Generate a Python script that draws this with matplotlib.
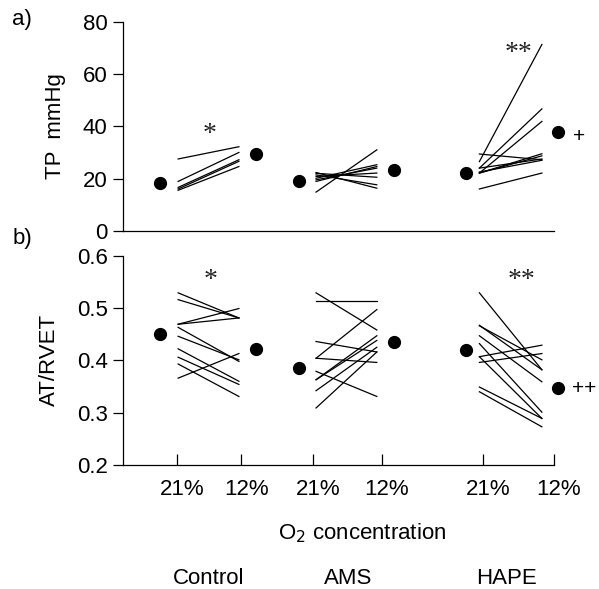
import matplotlib
matplotlib.use('Agg')
import matplotlib.pyplot as plt
from matplotlib.transforms import ScaledTranslation

plt.rcParams['font.family'] = ['Liberation Sans', 'DejaVu Sans']

groups = ['Control', 'AMS', 'HAPE']
o2_labels = ['21%', '12%']

# TP mmHg, individual subjects (21% -> 12%) and group means
tp_ctrl_21 = [27.5, 18.9, 16.6, 16.0, 15.5]
tp_ctrl_12 = [32.2, 30.0, 27.2, 26.6, 24.6]
tp_ams_21 = [14.8, 22.3, 21.4, 20.1, 18.9, 20.8, 19.5, 22.0]
tp_ams_12 = [31.0, 16.3, 17.6, 25.3, 24.6, 22.1, 24.0, 20.5]
tp_hape_21 = [26.5, 24.0, 22.1, 29.4, 22.1, 24.0, 16.0, 22.1, 22.5]
tp_hape_12 = [71.4, 46.7, 41.9, 27.2, 29.5, 27.5, 22.1, 28.7, 27.0]
tp_mean_21 = [18.2, 18.9, 22.3]
tp_mean_12 = [29.5, 23.1, 37.7]

# AT/RVET
at_ctrl_21 = [0.529, 0.516, 0.469, 0.469, 0.463, 0.446, 0.422, 0.406, 0.393, 0.366]
at_ctrl_12 = [0.481, 0.481, 0.499, 0.481, 0.398, 0.401, 0.360, 0.354, 0.331, 0.413]
at_ams_21 = [0.529, 0.514, 0.436, 0.404, 0.404, 0.379, 0.363, 0.363, 0.342, 0.309]
at_ams_12 = [0.458, 0.514, 0.416, 0.497, 0.396, 0.331, 0.447, 0.438, 0.425, 0.416]
at_hape_21 = [0.529, 0.467, 0.466, 0.447, 0.432, 0.407, 0.396, 0.407, 0.349, 0.340]
at_hape_12 = [0.382, 0.382, 0.401, 0.359, 0.301, 0.429, 0.413, 0.289, 0.289, 0.273]
at_mean_21 = [0.451, 0.386, 0.420]
at_mean_12 = [0.421, 0.435, 0.348]

# layout (x in axis units 0..10)
line_x = [(1.28, 2.69), (4.48, 5.89), (8.27, 9.72)]
dot_x = [(0.86, 3.09), (4.08, 6.28), (7.95, 10.1)]
tick_x = [1.25, 2.74, 4.41, 6.01, 8.35, 10.0]

fig = plt.figure(figsize=(5.99, 5.89), dpi=100)
ax1 = fig.add_axes([0.2053, 0.6083, 0.7195, 0.3543])
ax2 = fig.add_axes([0.2053, 0.2105, 0.7195, 0.3554])


def draw_panel(ax, pairs, means21, means12):
    for (x0, x1), (v21, v12) in zip(line_x, pairs):
        for a, b in zip(v21, v12):
            ax.plot([x0, x1], [a, b], color='black', lw=0.9)
    for (x0, x1), m21, m12 in zip(dot_x, means21, means12):
        ax.plot([x0, x1], [m21, m12], 'o', color='black', ms=8.5,
                ls='none', clip_on=False)
    ax.set_xlim(0, 10)
    for s in ['top', 'right']:
        ax.spines[s].set_visible(False)
    for s in ['left', 'bottom']:
        ax.spines[s].set_linewidth(0.9)
    ax.tick_params(axis='y', direction='out', length=7, width=0.9,
                   labelsize=16, pad=4)


draw_panel(ax1, [(tp_ctrl_21, tp_ctrl_12), (tp_ams_21, tp_ams_12),
                 (tp_hape_21, tp_hape_12)], tp_mean_21, tp_mean_12)
ax1.set_ylim(0, 80)
ax1.set_yticks([0, 20, 40, 60, 80])
ax1.set_xticks([])
ax1.set_ylabel('TP  mmHg', fontsize=16, labelpad=12)

draw_panel(ax2, [(at_ctrl_21, at_ctrl_12), (at_ams_21, at_ams_12),
                 (at_hape_21, at_hape_12)], at_mean_21, at_mean_12)
ax2.set_ylim(0.2, 0.6)
ax2.set_yticks([0.2, 0.3, 0.4, 0.5, 0.6])
ax2.set_yticklabels(['0.2', '0.3', '0.4', '0.5', '0.6'])
ax2.set_ylabel('AT/RVET', fontsize=16, labelpad=12)
ax2.set_xticks(tick_x)
ax2.set_xticklabels(o2_labels * 3)
ax2.tick_params(axis='x', direction='in', length=8, width=0.9,
                labelsize=16, pad=10)
shift = ScaledTranslation(5 / 100, 0, fig.dpi_scale_trans)
for lbl in ax2.get_xticklabels():
    lbl.set_transform(lbl.get_transform() + shift)

# significance marks
star = dict(family=['Liberation Serif', 'DejaVu Serif'], fontsize=20,
            ha='center', va='center', color='#222222')
ax1.text(2.0, 37, '*', **star)
ax1.text(9.17, 68, '**', **star)
ax2.text(2.03, 0.553, '*', **star)
ax2.text(9.24, 0.553, '**', **star)
plus = dict(fontsize=15, ha='left', va='center')
ax1.text(10.45, 36.3, '+', clip_on=False, **plus)
ax2.text(10.42, 0.347, '++', clip_on=False, **plus)

fig.text(22 / 599, 1 - 20 / 589, 'a)', fontsize=16, ha='center', va='center')
fig.text(22 / 599, 1 - 239 / 589, 'b)', fontsize=16, ha='center', va='center')

fig.text(362 / 599, 1 - 533 / 589, 'O$_2$ concentration', fontsize=16,
         ha='center', va='center')
for name, px in zip(groups, [209, 348, 506]):
    fig.text(px / 599, 1 - 578 / 589, name, fontsize=16, ha='center',
             va='center')

fig.savefig('out.png', dpi=100)
